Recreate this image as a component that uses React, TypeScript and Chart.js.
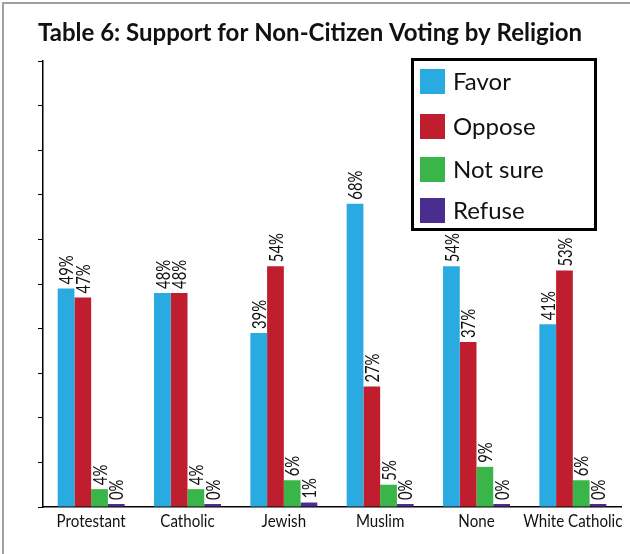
import React, { useEffect, useRef } from "react";
import { Chart, registerables } from "chart.js";

Chart.register(...registerables);

const TITLE = "Table 6: Support for Non-Citizen Voting by Religion";
const categories = ["Protestant", "Catholic", "Jewish", "Muslim", "None", "White Catholic"];
const seriesNames = ["Favor", "Oppose", "Not sure", "Refuse"];
const favor = [49, 48, 39, 68, 54, 41];
const oppose = [47, 48, 54, 27, 37, 53];
const notSure = [4, 4, 6, 5, 9, 6];
const refuse = [0, 0, 1, 0, 0, 0];
const colors = ["#29ABE2", "#BE1E2D", "#39B54A", "#4B2D8F"];

const SANS = 'Lato, "Open Sans", sans-serif';

const framePlugin = {
  id: "frame",
  beforeDraw(chart: any) {
    const ctx = chart.ctx;
    ctx.save();
    ctx.fillStyle = "#ffffff";
    ctx.fillRect(0, 0, chart.width, chart.height);
    ctx.strokeStyle = "#a0a0a0";
    ctx.lineWidth = 2;
    ctx.beginPath();
    ctx.moveTo(3, chart.height);
    ctx.lineTo(3, 3);
    ctx.lineTo(chart.width, 3);
    ctx.stroke();
    ctx.fillStyle = "#111";
    ctx.font = "bold 24px " + SANS;
    ctx.textBaseline = "alphabetic";
    ctx.textAlign = "left";
    ctx.fillText(TITLE, 38, 41);
    ctx.restore();
  },
};

const labelsPlugin = {
  id: "barLabels",
  afterDatasetsDraw(chart: any) {
    const ctx = chart.ctx;
    ctx.save();
    ctx.font = "19px " + SANS;
    ctx.fillStyle = "#111";
    chart.data.datasets.forEach((ds: any, di: number) => {
      const meta = chart.getDatasetMeta(di);
      meta.data.forEach((bar: any, i: number) => {
        ctx.save();
        ctx.translate(bar.x, bar.y - 4);
        ctx.rotate(-Math.PI / 2);
        ctx.scale(0.78, 1);
        ctx.textAlign = "left";
        ctx.textBaseline = "middle";
        ctx.fillText(ds.data[i] + "%", 0, 1);
        ctx.restore();
      });
    });
    // category labels
    const xs = chart.scales.x;
    ctx.font = "18px " + SANS;
    ctx.textAlign = "center";
    ctx.textBaseline = "alphabetic";
    chart.data.labels.forEach((lab: string, i: number) => {
      const x = xs.getPixelForValue(i);
      ctx.save();
      ctx.translate(x, 527);
      ctx.scale(0.84, 1);
      ctx.fillText(lab, 0, 0);
      ctx.restore();
    });
    ctx.restore();
  },
};

const legendPlugin = {
  id: "boxLegend",
  afterDraw(chart: any) {
    const ctx = chart.ctx;
    ctx.save();
    ctx.fillStyle = "#ffffff";
    ctx.fillRect(411, 58, 186, 173);
    ctx.strokeStyle = "#000";
    ctx.lineWidth = 3;
    ctx.strokeRect(412.5, 59.5, 183, 170);
    const ys = [69, 114, 157, 198];
    ctx.font = "24px " + SANS;
    ctx.textBaseline = "middle";
    ctx.textAlign = "left";
    chart.data.datasets.forEach((ds: any, i: number) => {
      ctx.fillStyle = ds.backgroundColor;
      ctx.fillRect(420, ys[i], 25, 25);
      ctx.fillStyle = "#111";
      ctx.fillText(ds.label, 453, ys[i] + 13);
    });
    ctx.restore();
  },
};

export default function App() {
  const ref = useRef<HTMLCanvasElement | null>(null);
  useEffect(() => {
    if (!ref.current) return;
    const series = [favor, oppose, notSure, refuse];
    const chart = new Chart(ref.current, {
      type: "bar",
      data: {
        labels: categories,
        datasets: series.map((d, i) => ({
          label: seriesNames[i],
          data: d,
          backgroundColor: colors[i],
          barPercentage: 1,
          categoryPercentage: 0.695,
          minBarLength: 3,
        })),
      },
      options: {
        animation: false,
        responsive: false,
        maintainAspectRatio: false,
        events: [],
        layout: { padding: { top: 61, left: 38, right: 9, bottom: 0 } },
        plugins: { legend: { display: false }, tooltip: { enabled: false }, title: { display: false } },
        scales: {
          x: {
            grid: { display: false, drawTicks: false },
            border: { display: true, color: "#000", width: 1.5 },
            ticks: { display: false },
            afterFit: (s: any) => { s.height = 47; },
          },
          y: {
            min: 0,
            max: 100,
            grid: { display: true, drawOnChartArea: false, drawTicks: true, tickLength: 5, color: "#000", lineWidth: 1 },
            border: { display: true, color: "#000", width: 1.5 },
            ticks: { display: false, stepSize: 10 },
            afterFit: (s: any) => { s.width = 5; },
          },
        },
      },
      plugins: [framePlugin, labelsPlugin, legendPlugin],
    });
    return () => chart.destroy();
  }, []);
  return (
    <div style={{ position: "absolute", left: 0, top: 0, width: 630, height: 554, background: "#fff" }}>
      <canvas ref={ref} width={630} height={554} style={{ display: "block", width: 630, height: 554 }} />
    </div>
  );
}
